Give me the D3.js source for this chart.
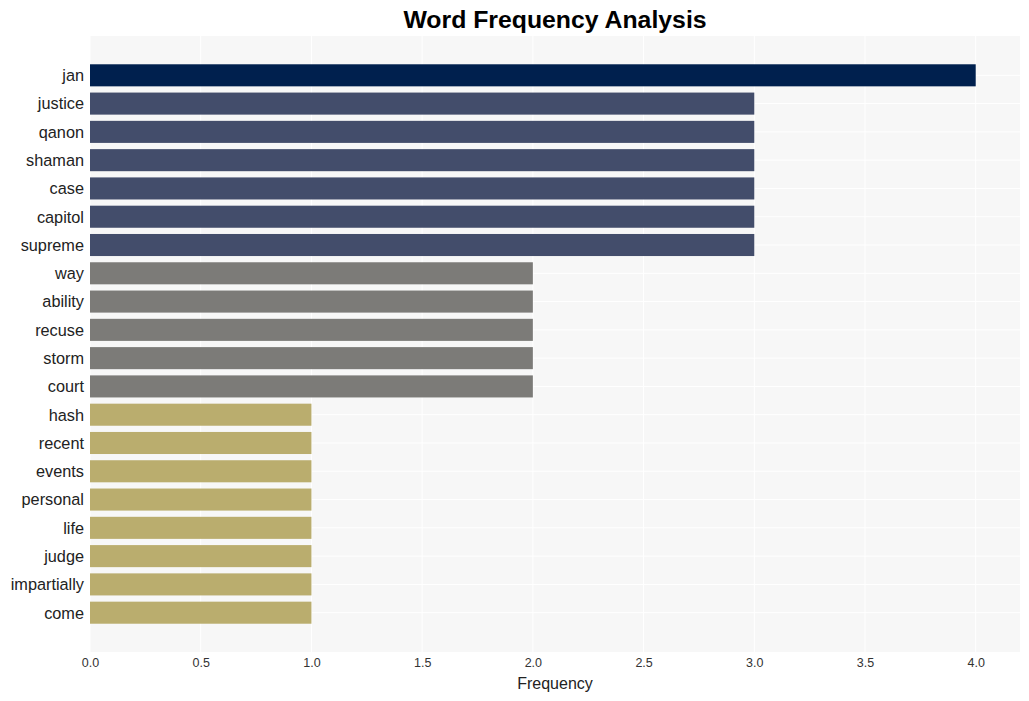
<!DOCTYPE html>
<html><head><meta charset="utf-8">
<script src="https://cdn.jsdelivr.net/npm/d3@7"></script>
<style>body{margin:0;background:#fff}svg{display:block}text{font-family:"Liberation Sans",Arial,sans-serif}</style>
</head><body>
<svg id="c" width="1029" height="701"></svg>
<script>
const words = ["jan","justice","qanon","shaman","case","capitol","supreme","way","ability","recuse","storm","court","hash","recent","events","personal","life","judge","impartially","come"];
const freqs = [4,3,3,3,3,3,3,2,2,2,2,2,1,1,1,1,1,1,1,1];
const xTicks = [0,0.5,1,1.5,2,2.5,3,3.5,4];
const colorByValue = {4:"#00204e",3:"#434d6b",2:"#7c7b78",1:"#baad6e"};

const svg = d3.select("#c");
const L=90,R=1020,T=36,B=652;
const x = d3.scaleLinear().domain([0,4.2]).range([L,R]);
const y = d3.scaleBand().domain(words).range([T,B]).paddingInner(0.22).paddingOuter(1);

svg.append("rect").attr("x",L).attr("y",T).attr("width",R-L).attr("height",B-T).attr("fill","#f7f7f7");
// grid
svg.append("g").selectAll("line").data(xTicks).join("line")
  .attr("x1",d=>x(d)).attr("x2",d=>x(d)).attr("y1",T).attr("y2",B)
  .attr("stroke","#ffffff").attr("stroke-width",1);
svg.append("g").selectAll("line").data(words).join("line")
  .attr("x1",L).attr("x2",R).attr("y1",d=>y(d)+y.bandwidth()/2).attr("y2",d=>y(d)+y.bandwidth()/2)
  .attr("stroke","#ffffff").attr("stroke-width",1);
// bars
svg.append("g").selectAll("rect").data(words).join("rect")
  .attr("x",x(0)).attr("y",d=>y(d)).attr("height",y.bandwidth())
  .attr("width",(d,i)=>x(freqs[i])-x(0)).attr("fill",(d,i)=>colorByValue[freqs[i]]);
// x axis
const xa = svg.append("g").attr("transform",`translate(0,${B})`)
  .call(d3.axisBottom(x).tickValues(xTicks).tickFormat(d3.format(".1f")).tickSize(0).tickPadding(6));
xa.select(".domain").remove();
xa.selectAll("text").attr("font-size",12.5).attr("fill","#333").attr("font-family","Liberation Sans, Arial, sans-serif");
// y axis
const ya = svg.append("g").attr("transform",`translate(${L},0)`)
  .call(d3.axisLeft(y).tickSize(0).tickPadding(6));
ya.select(".domain").remove();
ya.selectAll("text").attr("font-size",16.3).attr("fill","#222").attr("dy","0.36em")
  .attr("font-family","Liberation Sans, Arial, sans-serif");
// labels
svg.append("text").attr("x",(L+R)/2).attr("y",689).attr("text-anchor","middle")
  .attr("font-size",16).attr("fill","#222").text("Frequency");
svg.append("text").attr("x",(L+R)/2).attr("y",28).attr("text-anchor","middle")
  .attr("font-size",24.8).attr("font-weight","bold").attr("fill","#000").text("Word Frequency Analysis");
</script>
</body></html>
